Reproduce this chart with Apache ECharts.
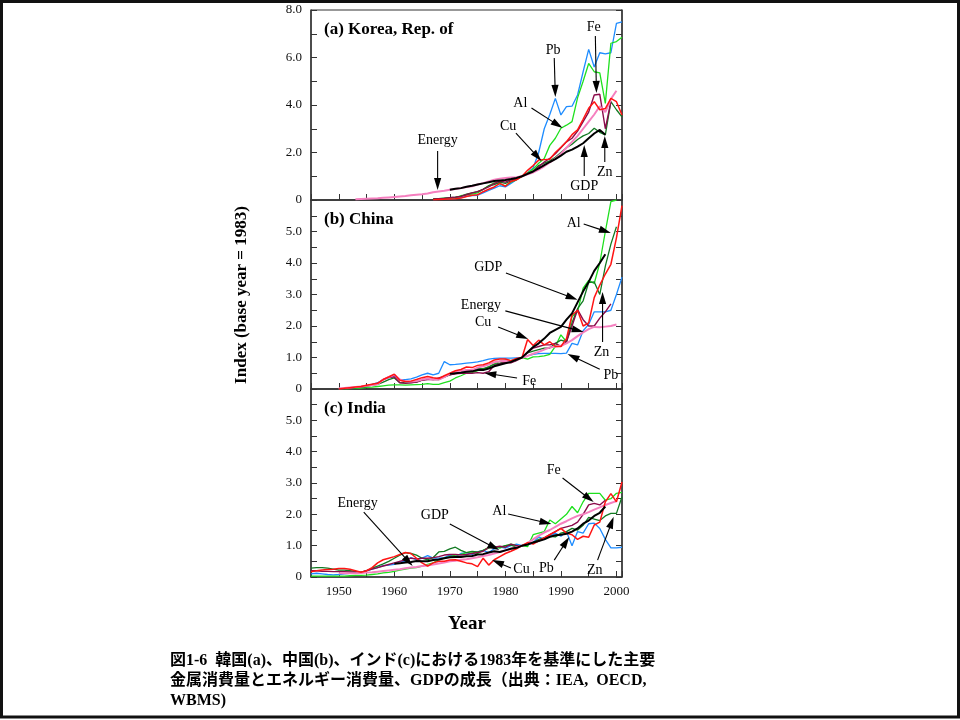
<!DOCTYPE html>
<html><head><meta charset="utf-8">
<script src="https://cdn.jsdelivr.net/npm/echarts@6.0.0/dist/echarts.min.js"></script>
<style>html,body{margin:0;padding:0;background:#fff}#c{width:960px;height:720px}</style>
</head><body><div id="c"></div>
<script>
// ---------------- DATA ----------------
const xMin = 1945, xMax = 2001;
const xLabels = [1950, 1960, 1970, 1980, 1990, 2000];

// (a) Korea — metals from 1967, energy from 1953, GDP from 1970
const krMetalStart = 1967, krEnergyStart = 1953, krGdpStart = 1970;
const krPb = [0.02,0.03,0.04,0.05,0.06,0.10,0.15,0.18,0.20,0.30,0.40,0.50,0.60,0.55,0.70,0.85,1.00,
  1.15,1.35,2.00,3.00,3.60,4.28,3.58,3.93,3.95,4.42,5.40,6.34,5.60,6.20,6.15,6.20,7.44,7.50];
const krAl = [0.05,0.06,0.07,0.08,0.09,0.18,0.22,0.25,0.30,0.45,0.60,0.72,0.68,0.60,0.75,0.85,1.00,
  1.15,1.30,1.55,1.75,2.30,2.60,3.02,3.15,3.30,4.30,5.00,5.75,5.40,5.35,4.07,6.60,6.67,6.85];
const krZn = [0.05,0.06,0.08,0.10,0.12,0.15,0.25,0.30,0.35,0.45,0.60,0.65,0.75,0.70,0.80,0.88,1.00,
  1.10,1.22,1.45,1.55,1.65,1.80,2.00,2.20,2.35,2.55,2.70,2.80,3.02,2.85,2.74,4.14,3.80,3.50];
const krFe = [0.03,0.05,0.07,0.10,0.12,0.15,0.22,0.30,0.35,0.45,0.55,0.70,0.80,0.75,0.85,0.90,1.00,
  1.12,1.20,1.40,1.60,1.75,1.95,2.20,2.45,2.60,2.90,3.30,3.70,4.42,4.45,3.00,4.14];
const krCu = [0.01,0.02,0.03,0.04,0.05,0.08,0.15,0.20,0.22,0.35,0.45,0.55,0.70,0.58,0.78,0.85,1.00,
  1.25,1.45,1.68,1.70,1.72,2.00,2.22,2.45,2.75,2.95,3.40,3.86,4.14,3.80,3.85,4.28,4.14,3.58];
const krEnergy = [0.03,0.04,0.05,0.06,0.07,0.09,0.11,0.13,0.15,0.17,0.20,0.22,0.24,0.27,0.33,0.36,0.39,0.43,
  0.46,0.50,0.55,0.58,0.65,0.71,0.78,0.85,0.90,0.93,0.95,0.96,1.00,
  1.08,1.16,1.28,1.42,1.58,1.74,1.95,2.20,2.45,2.70,3.00,3.30,3.60,3.95,3.70,4.25,4.60];
const krGdp = [0.43,0.47,0.50,0.56,0.60,0.65,0.70,0.75,0.80,0.82,0.84,0.88,0.93,1.00,
  1.10,1.20,1.33,1.47,1.60,1.72,1.87,2.03,2.12,2.25,2.39,2.60,2.80,2.95,2.75];

// (b) China — metals & energy from 1950, GDP from 1970
const cnStart = 1950, cnGdpStart = 1970;
const cnPb = [0,0.01,0.02,0.04,0.06,0.10,0.15,0.20,0.30,0.35,
  0.40,0.30,0.30,0.32,0.38,0.45,0.50,0.45,0.50,0.87,
  0.77,0.78,0.80,0.82,0.84,0.86,0.90,0.95,0.97,0.98,
  0.98,0.98,0.99,1.00,1.05,1.10,1.12,1.13,1.13,1.13,
  1.12,1.14,1.45,1.40,1.85,2.05,2.45,2.45,2.45,2.50,
  3.00,3.55];
const cnAl = [0,0,0.01,0.02,0.03,0.05,0.06,0.08,0.10,0.12,
  0.13,0.13,0.12,0.13,0.14,0.15,0.17,0.15,0.15,0.20,
  0.25,0.35,0.42,0.50,0.52,0.58,0.62,0.70,0.80,0.88,
  0.92,0.90,0.95,1.00,0.95,1.02,1.03,1.05,1.10,1.35,
  1.72,1.50,2.30,2.45,3.20,3.45,3.35,4.00,5.00,5.95,
  6.00];
const cnZn = [0,0.01,0.02,0.04,0.06,0.08,0.12,0.15,0.22,0.30,
  0.35,0.20,0.20,0.20,0.22,0.28,0.32,0.30,0.30,0.38,
  0.45,0.50,0.55,0.60,0.60,0.65,0.65,0.70,0.78,0.82,
  0.88,0.85,0.92,1.00,1.15,1.20,1.25,1.30,1.30,1.45,
  1.55,1.50,2.10,2.55,2.80,3.38,3.40,3.00,3.90,4.60,
  5.15];
const cnFe = [0,0.01,0.03,0.05,0.07,0.10,0.14,0.18,0.30,0.38,
  0.38,0.20,0.18,0.20,0.22,0.28,0.30,0.30,0.35,0.40,
  0.45,0.48,0.50,0.50,0.50,0.52,0.50,0.55,0.75,0.80,
  0.85,0.83,0.90,1.00,1.15,1.30,1.35,1.40,1.40,1.45,
  1.35,1.50,2.00,2.52,2.20,2.00,2.00,2.25,2.45,2.70];
const cnCu = [0,0.02,0.04,0.06,0.08,0.12,0.15,0.18,0.30,0.38,
  0.47,0.28,0.24,0.25,0.30,0.36,0.40,0.36,0.33,0.42,
  0.50,0.58,0.62,0.70,0.68,0.75,0.77,0.83,0.92,0.95,
  0.95,0.90,0.97,1.00,1.57,1.38,1.55,1.40,1.50,1.35,
  1.35,1.60,2.35,2.50,2.00,2.10,2.90,3.30,3.65,3.96,
  4.80,5.82];
const cnEnergy = [0.02,0.03,0.05,0.06,0.08,0.10,0.12,0.15,0.30,0.38,
  0.45,0.30,0.24,0.24,0.25,0.30,0.33,0.30,0.30,0.38,
  0.48,0.53,0.57,0.60,0.60,0.68,0.72,0.78,0.85,0.88,
  0.90,0.88,0.93,1.00,1.05,1.12,1.18,1.25,1.32,1.35,
  1.37,1.45,1.55,1.68,1.80,1.90,1.97,1.96,1.98,2.00,
  2.05];
const cnGdp = [0.48,0.50,0.52,0.55,0.56,0.60,0.60,0.65,0.72,0.77,
  0.82,0.86,0.93,1.00,1.17,1.33,1.45,1.60,1.78,1.88,
  1.97,2.20,2.40,2.75,3.10,3.40,3.75,4.00,4.28];

// (c) India — metals from 1945, energy from 1950, GDP from 1960
const inStart = 1945, inEnergyStart = 1950, inGdpStart = 1960;
const inPb = [0.10,0.12,0.10,0.08,0.07,
  0.08,0.10,0.12,0.12,0.15,0.20,0.25,0.30,0.36,0.38,
  0.40,0.50,0.50,0.62,0.55,0.60,0.68,0.60,0.60,0.62,
  0.70,0.65,0.75,0.78,0.72,0.80,0.85,0.78,0.90,0.95,
  0.92,1.00,1.05,1.00,1.02,1.10,1.28,1.20,1.30,1.40,
  1.30,1.45,1.00,1.45,1.40,1.70,1.72,1.55,1.20,0.93,
  0.93,0.95];
const inAl = [0.03,0.03,0.03,0.03,0.03,
  0.03,0.03,0.04,0.05,0.05,0.06,0.08,0.10,0.13,0.15,
  0.18,0.22,0.25,0.28,0.30,0.35,0.40,0.45,0.55,0.60,
  0.65,0.70,0.72,0.78,0.80,0.75,0.85,0.95,0.98,0.92,
  1.00,1.05,1.00,1.00,0.97,1.35,1.40,1.45,1.82,1.70,
  1.85,2.00,2.25,2.05,2.40,2.67,2.67,2.67,2.45,2.50,
  2.67,2.70];
const inZn = [0.28,0.30,0.30,0.28,0.25,
  0.22,0.22,0.20,0.18,0.15,0.20,0.28,0.35,0.42,0.50,
  0.60,0.70,0.78,0.75,0.70,0.60,0.55,0.62,0.80,0.82,
  0.90,0.95,0.85,0.78,0.82,0.80,0.85,0.92,0.98,0.95,
  1.00,1.02,0.95,1.00,1.05,1.10,1.20,1.25,1.30,1.28,
  1.40,1.45,1.55,1.50,1.65,1.90,1.85,1.80,1.95,2.03,
  2.03,2.56];
const inFe = [0.20,0.20,0.18,0.18,0.17,
  0.17,0.17,0.16,0.15,0.15,0.20,0.25,0.30,0.35,0.40,
  0.45,0.50,0.55,0.60,0.58,0.60,0.60,0.62,0.65,0.70,
  0.72,0.72,0.70,0.72,0.75,0.78,0.82,0.95,0.95,0.98,
  0.95,1.05,1.00,1.00,1.05,1.10,1.15,1.25,1.35,1.45,
  1.55,1.60,1.65,1.75,2.00,2.30,2.35,2.30,2.45];
const inCu = [0.17,0.20,0.22,0.24,0.25,
  0.27,0.27,0.25,0.20,0.15,0.20,0.30,0.45,0.55,0.60,
  0.65,0.72,0.78,0.75,0.60,0.45,0.35,0.45,0.50,0.50,
  0.54,0.55,0.50,0.45,0.42,0.33,0.60,0.38,0.55,0.65,
  0.75,0.82,0.90,1.00,1.10,1.05,1.15,1.25,1.35,1.45,
  1.55,1.40,1.35,1.20,1.30,1.27,1.66,1.75,2.40,2.66,
  2.40,3.03];
const inEnergy = [0.12,0.12,0.12,0.12,0.13,0.14,0.15,0.17,0.19,0.21,
  0.23,0.25,0.28,0.30,0.32,0.35,0.37,0.40,0.43,0.46,
  0.50,0.52,0.55,0.57,0.60,0.63,0.67,0.70,0.75,0.80,
  0.85,0.90,0.95,1.00,1.08,1.20,1.32,1.42,1.50,1.60,
  1.70,1.78,1.87,1.95,2.00,2.07,2.15,2.22,2.30,2.36,2.42];
const inGdp = [0.42,0.44,0.46,0.48,0.51,0.50,0.50,0.54,0.56,0.60,
  0.63,0.64,0.64,0.66,0.67,0.72,0.73,0.78,0.82,0.80,
  0.85,0.90,0.93,1.00,1.04,1.10,1.15,1.20,1.28,1.33,
  1.35,1.38,1.45,1.55,1.70,1.80,1.95,2.05,2.25];

// annotations: [label, labelX, labelY, arrowFromX, arrowFromY, arrowToX, arrowToY] (data coords)
const krNotes = [
  ['Energy',1967.8,2.53, 1967.8,2.06, 1967.8,0.42],
  ['Pb',1988.6,6.32, 1988.8,5.98, 1989.0,4.34],
  ['Fe',1995.9,7.28, 1996.2,6.91, 1996.4,4.51],
  ['Al',1982.7,4.08, 1984.7,3.87, 1990.3,3.03],
  ['Cu',1980.5,3.12, 1981.9,2.82, 1986.5,1.64],
  ['GDP',1994.2,0.59, 1994.2,1.01, 1994.2,2.32],
  ['Zn',1997.9,1.18, 1997.9,1.60, 1997.9,2.69]
];
const cnNotes = [
  ['Al',1992.3,5.27, 1994.1,5.24, 1999.0,4.95],
  ['GDP',1976.9,3.87, 1980.1,3.68, 1993.0,2.83],
  ['Energy',1975.6,2.67, 1980.0,2.48, 1994.1,1.81],
  ['Cu',1976.0,2.13, 1978.7,1.97, 1984.1,1.59],
  ['Zn',1997.3,1.17, 1997.5,1.49, 1997.5,3.08],
  ['Pb',1999.0,0.44, 1997.0,0.63, 1991.2,1.11],
  ['Fe',1984.3,0.25, 1982.1,0.35, 1976.2,0.51]
];
const inNotes = [
  ['Energy',1953.4,2.36, 1954.5,2.07, 1963.3,0.35],
  ['GDP',1967.3,1.98, 1970.0,1.69, 1978.9,0.86],
  ['Al',1978.9,2.11, 1980.5,2.01, 1988.3,1.69],
  ['Fe',1988.7,3.42, 1990.3,3.16, 1995.9,2.39],
  ['Cu',1982.9,0.26, 1981.0,0.29, 1977.6,0.54],
  ['Pb',1987.4,0.29, 1988.8,0.54, 1991.5,1.28],
  ['Zn',1996.1,0.22, 1996.6,0.54, 1999.5,1.92]
];

// ---------------- STYLE / BUILD ----------------
const SERIF = '"Liberation Serif","DejaVu Serif",serif';
const colors = {Pb:'#1e8cff', Al:'#1ee01e', Zn:'#127a22', Fe:'#8a0a4a', Cu:'#ff1414', Energy:'#f57fbf', GDP:'#000000'};
const widths = {Pb:1.3, Al:1.3, Zn:1.3, Fe:1.4, Cu:1.5, Energy:2, GDP:2};

const panels = [
  {title:'(a) Korea, Rep. of', yMax:8, yStep:1, labStep:2, notes:krNotes,
   series:[['Pb',krMetalStart,krPb],['Al',krMetalStart,krAl],['Zn',krMetalStart,krZn],['Fe',krMetalStart,krFe],
           ['Energy',krEnergyStart,krEnergy],['Cu',krMetalStart,krCu],['GDP',krGdpStart,krGdp]]},
  {title:'(b) China', yMax:6, yStep:0.5, labStep:1, notes:cnNotes,
   series:[['Pb',cnStart,cnPb],['Al',cnStart,cnAl],['Zn',cnStart,cnZn],['Fe',cnStart,cnFe],
           ['Energy',cnStart,cnEnergy],['Cu',cnStart,cnCu],['GDP',cnGdpStart,cnGdp]]},
  {title:'(c) India', yMax:6, yStep:0.5, labStep:1, notes:inNotes,
   series:[['Pb',inStart,inPb],['Al',inStart,inAl],['Zn',inStart,inZn],['Fe',inStart,inFe],
           ['Energy',inEnergyStart,inEnergy],['Cu',inStart,inCu],['GDP',inGdpStart,inGdp]]}
];
const gridBoxes = [{top:10,height:190},{top:200,height:189},{top:389,height:188}];

const grid = [], xAxis = [], yAxis = [], series = [];
const axisCol = '#333';
panels.forEach((p, i) => {
  grid.push({left:311, top:gridBoxes[i].top, width:311, height:gridBoxes[i].height,
    show:true, borderColor:axisCol, borderWidth:1, backgroundColor:'transparent', outerBoundsMode:'none'});
  xAxis.push({type:'value', gridIndex:i, min:xMin, max:xMax, interval:5,
    axisLine:{show:true, onZero:false, lineStyle:{color:axisCol, width:1.5}},
    axisTick:{show:true, inside:true, length:6, lineStyle:{color:axisCol, width:1}},
    splitLine:{show:false},
    axisLabel:{show:i===2, margin:8, color:'#111', fontFamily:SERIF, fontSize:13,
      formatter:v => xLabels.indexOf(v) >= 0 ? String(v) : ''}});
  const fmt = v => {
    if (i > 0 && Math.abs(v - p.yMax) < 1e-9) return '';
    if (Math.abs(v / p.labStep - Math.round(v / p.labStep)) > 1e-9) return '';
    return v === 0 ? '0' : v.toFixed(1);
  };
  yAxis.push({type:'value', gridIndex:i, min:0, max:p.yMax, interval:p.yStep, position:'left',
    axisLine:{show:true, onZero:false, lineStyle:{color:axisCol, width:1.5}},
    axisTick:{show:true, inside:true, length:6, lineStyle:{color:axisCol, width:1}},
    splitLine:{show:false},
    axisLabel:{show:true, margin:9, color:'#111', fontFamily:SERIF, fontSize:13, formatter:fmt}});
  yAxis.push({type:'value', gridIndex:i, min:0, max:p.yMax, interval:p.yStep, position:'right',
    axisLine:{show:true, onZero:false, lineStyle:{color:axisCol, width:1.5}},
    axisTick:{show:true, inside:true, length:6, lineStyle:{color:axisCol, width:1}},
    splitLine:{show:false}, axisLabel:{show:false}});
  p.series.forEach(([name, start, arr], k) => {
    series.push({type:'line', name:name, xAxisIndex:i, yAxisIndex:2*i,
      data:arr.map((v, j) => [start + j, v]),
      symbol:'none', showSymbol:false, animation:false, silent:true, z:2 + k,
      lineStyle:{color:colors[name], width:widths[name]}, itemStyle:{color:colors[name]}});
  });
});

const chart = echarts.init(document.getElementById('c'), null, {renderer:'canvas'});
chart.setOption({animation:false, backgroundColor:'#fff', grid, xAxis, yAxis, series});

// ---------- annotations & texts ----------
const graphic = [];
graphic.push({type:'rect', shape:{x:1.5, y:1.5, width:957, height:715.5}, style:{fill:null, stroke:'#111', lineWidth:3}, z:100});
panels.forEach((p, i) => {
  const finder = {xAxisIndex:i, yAxisIndex:2*i};
  graphic.push({type:'text', x:324, y:gridBoxes[i].top + 20, z:100,
    style:{text:p.title, font:'bold 17px ' + SERIF, fill:'#000', textAlign:'left', verticalAlign:'middle', textVerticalAlign:'middle'}});
  p.notes.forEach(n => {
    const [txt, lx, ly, x1, y1, x2, y2] = n;
    const L = chart.convertToPixel(finder, [lx, ly]);
    const A = chart.convertToPixel(finder, [x1, y1]);
    const B = chart.convertToPixel(finder, [x2, y2]);
    const dx = B[0] - A[0], dy = B[1] - A[1];
    const len = Math.sqrt(dx*dx + dy*dy) || 1;
    const ux = dx / len, uy = dy / len;
    const hl = 12, hw = 3.6;
    const bx = B[0] - ux*hl, by = B[1] - uy*hl;
    graphic.push({type:'line', z:100, shape:{x1:A[0], y1:A[1], x2:bx + ux*2, y2:by + uy*2},
      style:{stroke:'#000', lineWidth:1.1}});
    graphic.push({type:'polygon', z:100, shape:{points:[[B[0],B[1]],[bx - uy*hw, by + ux*hw],[bx + uy*hw, by - ux*hw]]},
      style:{fill:'#000', stroke:null}});
    graphic.push({type:'text', x:L[0], y:L[1], z:100,
      style:{text:txt, font:'14px ' + SERIF, fill:'#000', textAlign:'center', verticalAlign:'middle', textVerticalAlign:'middle'}});
  });
});
graphic.push({type:'text', x:242, y:295, rotation:Math.PI/2, z:100,
  style:{text:'Index (base year = 1983)', font:'bold 17px ' + SERIF, fill:'#000', textAlign:'center', verticalAlign:'middle', textVerticalAlign:'middle'}});
graphic.push({type:'text', x:467, y:624, z:100,
  style:{text:'Year', font:'bold 19px ' + SERIF, fill:'#000', textAlign:'center', verticalAlign:'middle', textVerticalAlign:'middle'}});
const capFont = 'bold 16px "Liberation Serif","Noto Sans CJK JP",serif';
['図1-6  韓国(a)、中国(b)、インド(c)における1983年を基準にした主要',
 '金属消費量とエネルギー消費量、GDPの成長（出典：IEA,  OECD,',
 'WBMS)'].forEach((t, k) => {
  graphic.push({type:'text', x:170, y:661 + k*20, z:100,
    style:{text:t, font:capFont, fill:'#000', textAlign:'left', verticalAlign:'middle', textVerticalAlign:'middle'}});
});
chart.setOption({graphic});
</script>
</body></html>
